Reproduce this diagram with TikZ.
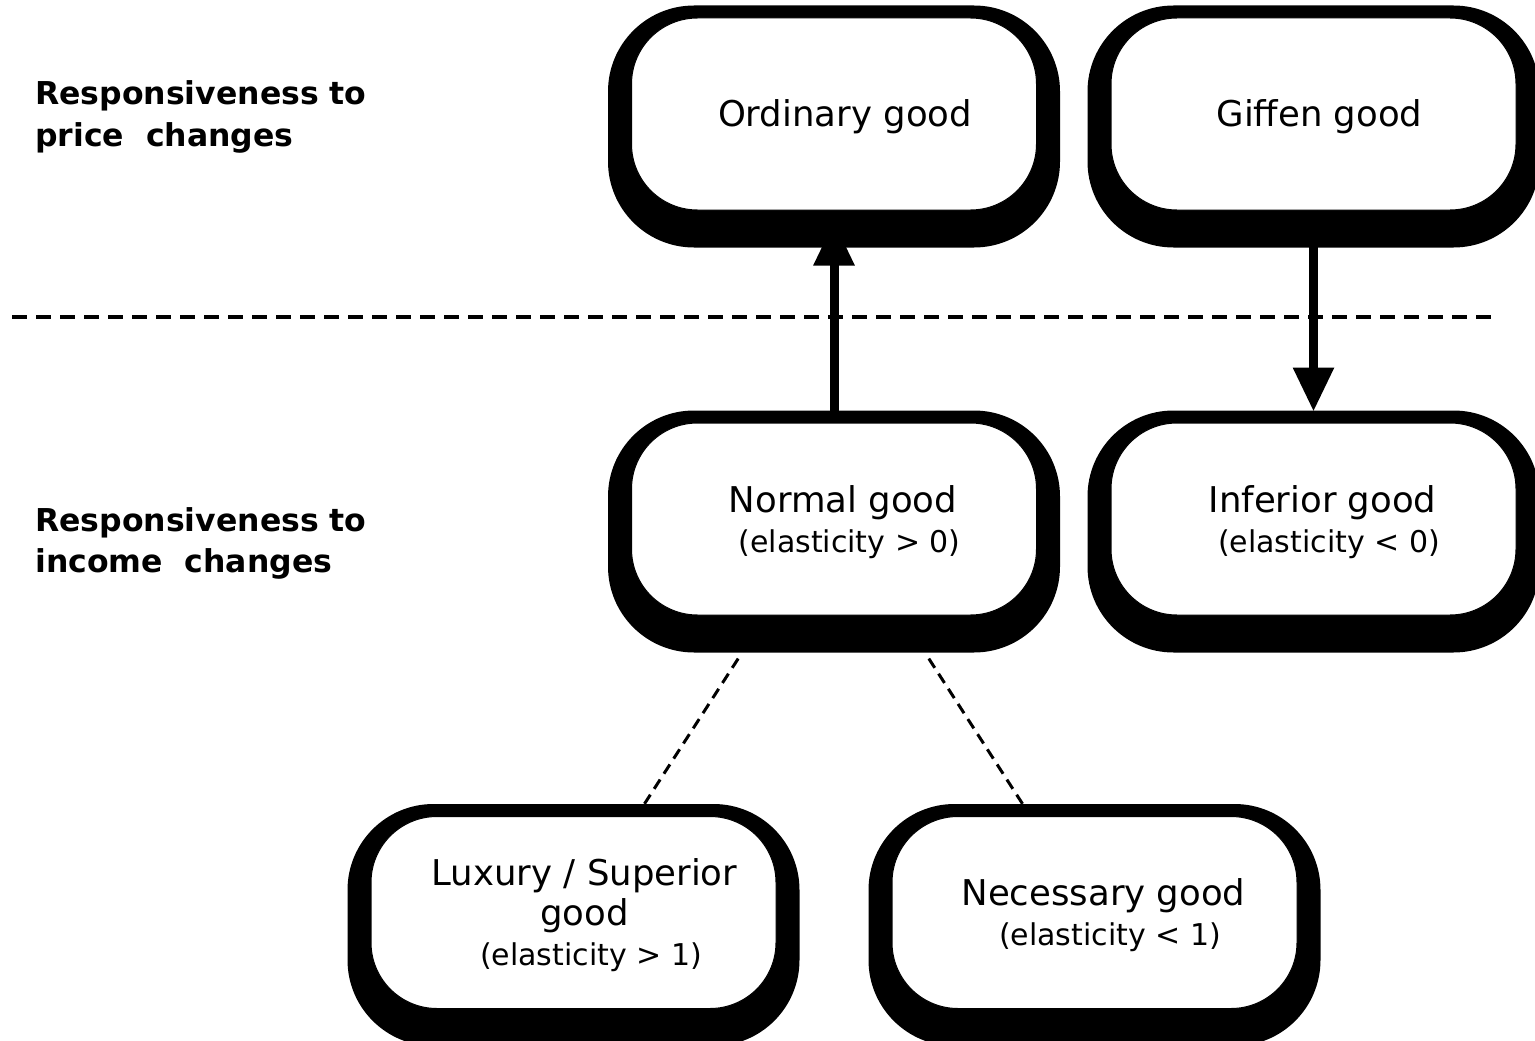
\documentclass[tikz,border=0pt]{standalone}
\usepackage{fontspec}
\setmainfont{DejaVu Sans}
\usetikzlibrary{arrows.meta, backgrounds, fit}

\tikzset{
  good/.style={draw=black, line width=1pt, fill=white, rounded corners=66pt,
    minimum width=405pt, minimum height=192pt, inner sep=0pt},
  goodtext/.style={align=center, inner sep=0pt, font=\fontsize{35.5}{40}\selectfont},
  goodshadow/.style={fill=black, rounded corners=86pt, inner sep=0pt},
  sidelabel/.style={anchor=base west, align=left, inner sep=0pt,
    font=\bfseries\fontsize{31.5}{41}\selectfont},
  link/.style={-{Triangle[length=44pt, width=39pt]}, line width=9pt},
  divider/.style={line width=4pt, dash pattern=on 15pt off 9pt},
  branch/.style={line width=3pt, dash pattern=on 11pt off 7pt}
}
\newcommand{\elast}[1]{{\fontsize{30}{40}\selectfont\hspace*{13pt}(elasticity #1)}}

\begin{document}
\begin{tikzpicture}[x=1pt,y=-1pt]
\useasboundingbox (0,0) rectangle (1535,1041);

% row labels
\node[sidelabel] (pricelbl) at (35,146) {Responsiveness to\\price\ \ changes};
\node[sidelabel] (incomelbl) at (35,572) {Responsiveness to\\income\ \ changes};

\draw[divider] (12,317) -- (1497,317);

% boxes
\node[good] (ord) at (834,114) {};
\node[good] (giff) at (1313.5,114) {};
\node[good] (norm) at (834,519) {};
\node[good] (inf) at (1313.5,519) {};
\node[good] (lux) at (573.5,912.5) {};
\node[good] (nec) at (1094.5,912.5) {};

\node[goodtext] (ord-t) at ([shift={(11,3)}]ord.center) {Ordinary good};
\node[goodtext] (giff-t) at ([shift={(6,3)}]giff.center) {Giffen good};
\node[goodtext] (norm-t) at ([shift={(9,3)}]norm.center) {Normal good\\\elast{> 0}};
\node[goodtext] (inf-t) at ([shift={(9,3)}]inf.center) {Inferior good\\\elast{< 0}};
\node[goodtext] (lux-t) at ([shift={(11,3)}]lux.center) {Luxury / Superior\\good\\\elast{> 1}};
\node[goodtext] (nec-t) at ([shift={(9,3)}]nec.center) {Necessary good\\\elast{< 1}};

% heavy shadows behind every box
\begin{scope}[on background layer]
\foreach \n in {ord,giff,norm,inf,lux,nec}{
  \coordinate (\n-a) at ([shift={(-23,-12)}]\n.north west);
  \coordinate (\n-b) at ([shift={(23,37)}]\n.south east);
  \node[goodshadow, fit=(\n-a)(\n-b)] (\n-sh) {};
}
\end{scope}

\draw[link] (norm.north) -- ([yshift=-11pt]ord.south);
\draw[link] (giff.south) -- ([yshift=11pt]inf.north);

\draw[branch, shorten <=7pt] ([xshift=-92pt]norm-sh.south) -- ([xshift=71pt]lux-sh.north);
\draw[branch, shorten <=7pt] ([xshift=91pt]norm-sh.south) -- ([xshift=-72pt]nec-sh.north);
\end{tikzpicture}
\end{document}
